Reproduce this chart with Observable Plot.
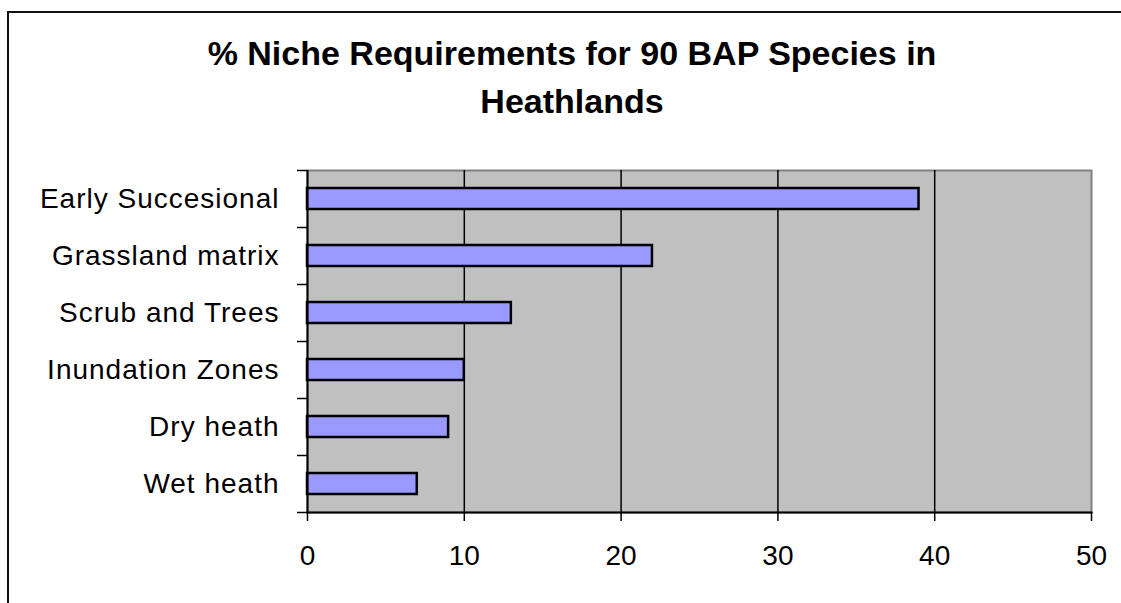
<!DOCTYPE html>
<html><head><meta charset="utf-8">
<script src="https://cdn.jsdelivr.net/npm/d3@7"></script>
<script src="https://cdn.jsdelivr.net/npm/@observablehq/plot@0.6"></script>
<style>
body{margin:0;background:#fff;overflow:hidden}
#wrap{position:relative;width:1121px;height:603px;overflow:hidden;font-family:"Liberation Sans",Arial,sans-serif}
#border{position:absolute;left:7px;top:11px;width:1300px;height:800px;border:2px solid #111;box-sizing:border-box}
#title{position:absolute;left:0;width:1144px;top:29px;text-align:center;font-weight:bold;font-size:34px;line-height:48px;color:#000}
#chart{position:absolute;left:0;top:0}
.ylab text{letter-spacing:1px}
</style>
</head><body>
<div id="wrap">
<div id="border"></div>
<div id="title">% Niche Requirements for 90 BAP Species in<br>Heathlands</div>
<div id="chart"></div>
</div>
<script>
const categories = ["Early Succesional","Grassland matrix","Scrub and Trees","Inundation Zones","Dry heath","Wet heath"];
const values = [39,22,13,10,9,7];
const xTicks = [0,10,20,30,40,50];
const gridValues = [10,20,30,40];
const data = categories.map((c,i)=>({category:c, value:values[i]}));

const chart = Plot.plot({
  width:1121, height:603,
  marginLeft:307, marginRight:30, marginTop:170, marginBottom:91,
  style:{fontFamily:'"Liberation Sans",Arial,sans-serif', fontSize:"28px", color:"#000", background:"transparent", overflow:"visible"},
  x:{domain:[0,50], label:null},
  y:{domain:categories, paddingInner:0.632, paddingOuter:0.316, label:null},
  marks:[
    Plot.frame({fill:"#c0c0c0", stroke:"#808080", strokeWidth:2}),
    Plot.ruleX(gridValues, {stroke:"#000", strokeWidth:1.5}),
    Plot.barX(data, {x:"value", y:"category", fill:"#9999ff", stroke:"#000", strokeWidth:2.5}),
    Plot.ruleX([0], {stroke:"#000", strokeWidth:2}),
    Plot.frame({anchor:"bottom", stroke:"#000", strokeWidth:2}),
    Plot.axisX({ticks:xTicks, tickSize:9, tickPadding:24, tickFormat:d=>String(d), stroke:"#000", strokeWidth:1.5, strokeOpacity:1, fontSize:28, label:null}),
    Plot.axisY({tickSize:10, tickFormat:()=>"", dy:-28.5, stroke:"#000", strokeWidth:1.5, strokeOpacity:1, label:null}),
    Plot.axisY({ticks:[categories[categories.length-1]], tickSize:10, tickFormat:()=>"", dy:28.5, stroke:"#000", strokeWidth:1.5, strokeOpacity:1, label:null}),
    Plot.axisY({tickSize:0, tickPadding:28, fontSize:28, label:null, className:"ylab"})
  ]
});
document.getElementById("chart").append(chart);
</script>
</body></html>
